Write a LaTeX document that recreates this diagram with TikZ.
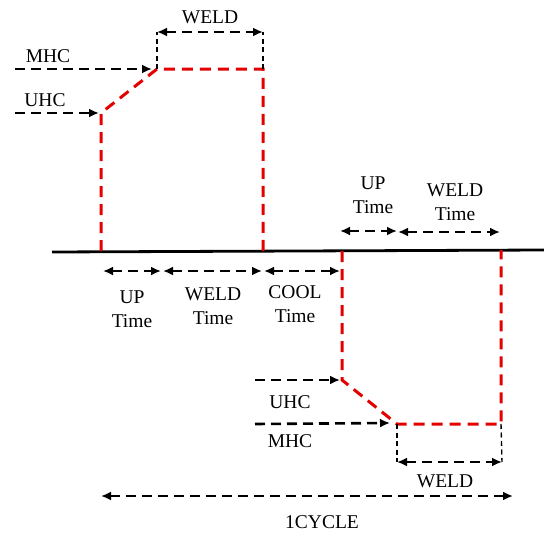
\documentclass[tikz,border=0pt]{standalone}
\usepackage{fontspec}
\setmainfont{Liberation Serif}
\usetikzlibrary{arrows.meta}
\tikzset{
  blk/.style={draw=black, line width=2.6pt, dash pattern=on 10pt off 6pt},
  thin/.style={draw=black, line width=1.4pt, dash pattern=on 5pt off 3.5pt},
  redd/.style={draw=red!90!black, line width=3pt, dash pattern=on 11pt off 7pt},
  tip/.style={-{Latex[length=10pt,width=9pt]}},
  dtip/.style={{Latex[length=10pt,width=9pt]}-{Latex[length=10pt,width=9pt]}},
  lbl/.style={font=\fontsize{19.5}{23}\selectfont, inner sep=0pt, align=center},
}
\begin{document}
\begin{tikzpicture}[x=1pt,y=-1pt]
\useasboundingbox (0,0) rectangle (544,533);
% base line
\coordinate (b0) at (52,252);
\coordinate (b1) at (544,250);
\draw[line width=2.8pt] (b0) -- (b1);
% first pulse
\coordinate (p1) at (101,251);
\coordinate (p2) at (101,113);
\coordinate (p3) at (157,69);
\coordinate (p4) at (263,69);
\coordinate (p5) at (263,251);
\draw[redd] (p1) -- (p2) -- (p3) -- (p4) -- (p5);
% MHC / UHC left
\coordinate (m0) at (15,69);
\coordinate (m1) at (152,69);
\coordinate (u0) at (15,113);
\coordinate (u1) at (99,113);
\draw[blk,tip] (m0) -- (m1);
\draw[blk,tip] (u0) -- (u1);
\node[lbl] (mhc1) at (48,56) {MHC};
\node[lbl] (uhc1) at (45,100) {UHC};
% top WELD
\coordinate (w0) at (157,32);
\coordinate (w1) at (263,32);
\draw[thin] (p3) -- (w0);
\draw[thin] (p4) -- (w1);
\draw[blk,dtip] (w0) -- (w1);
\node[lbl] (weld1) at (210,17) {WELD};
% below baseline times
\coordinate (t0) at (103,271);
\coordinate (t1) at (161,271);
\coordinate (t2) at (163,271);
\coordinate (t3) at (262,271);
\coordinate (t4) at (264,271);
\coordinate (t5) at (340,271);
\draw[blk,dtip] (t0) -- (t1);
\draw[blk,dtip] (t2) -- (t3);
\draw[blk,dtip] (t4) -- (t5);
\node[lbl] (up1) at (132,309) {UP\\[1pt]Time};
\node[lbl] (wt1) at (213,306) {WELD\\[1pt]Time};
\node[lbl] (ct1) at (295,304) {COOL\\[1pt]Time};
% second pulse
\coordinate (q1) at (342,251);
\coordinate (q2) at (342,380);
\coordinate (q3) at (397,424);
\coordinate (q4) at (501,424);
\coordinate (q5) at (501,250);
\draw[redd] (q1) -- (q2) -- (q3) -- (q4) -- (q5);
% UHC / MHC right
\coordinate (u2) at (255,380);
\coordinate (u3) at (340,380);
\coordinate (m2) at (255,424);
\coordinate (m3) at (390,423);
\draw[blk,tip] (u2) -- (u3);
\draw[blk,tip] (m2) -- (m3);
\node[lbl] (uhc2) at (290,402) {UHC};
\node[lbl] (mhc2) at (290,441) {MHC};
% bottom WELD
\coordinate (w2) at (397,462);
\coordinate (w3) at (502,462);
\draw[thin] (q3) -- (w2);
\draw[thin] (q4) -- (w3);
\draw[blk,dtip] (w2) -- (w3);
\node[lbl] (weld2) at (445,481) {WELD};
% top right times
\coordinate (r0) at (340,231);
\coordinate (r1) at (397,231);
\coordinate (r2) at (398,232);
\coordinate (r3) at (500,232);
\draw[blk,dtip] (r0) -- (r1);
\draw[blk,dtip] (r2) -- (r3);
\node[lbl] (up2) at (373,195) {UP\\[1pt]Time};
\node[lbl] (wt2) at (455,202) {WELD\\[1pt]Time};
% 1 cycle
\coordinate (c0) at (101,496);
\coordinate (c1) at (513,496);
\draw[blk,dtip] (c0) -- (c1);
\node[lbl] (cyc) at (322,522) {1CYCLE};
\end{tikzpicture}
\end{document}
